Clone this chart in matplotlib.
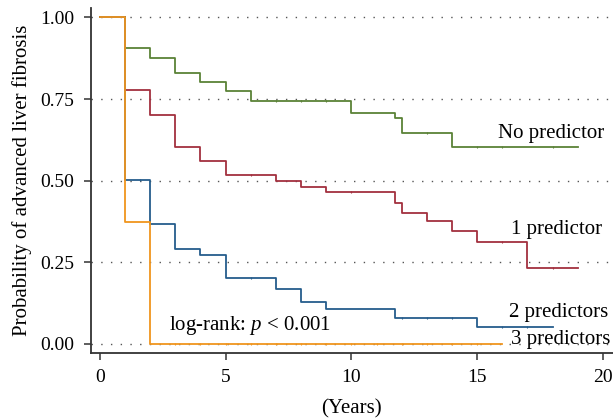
import matplotlib
matplotlib.use('Agg')
import matplotlib.pyplot as plt

plt.rcParams['font.family'] = ['Liberation Serif', 'DejaVu Serif']
plt.rcParams['mathtext.fontset'] = 'custom'
plt.rcParams['mathtext.it'] = 'Liberation Serif:italic'
plt.rcParams['mathtext.rm'] = 'Liberation Serif'

# Kaplan-Meier step data
t_none = [0, 1, 2, 3, 4, 5, 6, 10, 11.75, 12, 14, 19]
s_none = [1.0, 0.907, 0.877, 0.831, 0.801, 0.776, 0.745, 0.708, 0.691, 0.645, 0.604, 0.604]
c_none = [7, 8, 9, 13, 15, 16, 18]

t_one = [0, 1, 2, 3, 4, 5, 7, 8, 9, 11.75, 12, 13, 14, 15, 17, 19]
s_one = [1.0, 0.777, 0.700, 0.604, 0.560, 0.519, 0.499, 0.481, 0.464, 0.433, 0.402,
         0.378, 0.346, 0.311, 0.234, 0.234]
c_one = [6, 10, 16, 18]

t_two = [0, 1, 2, 3, 4, 5, 7, 8, 9, 11.75, 15, 18]
s_two = [1.0, 0.501, 0.366, 0.290, 0.272, 0.203, 0.167, 0.128, 0.108, 0.081, 0.053, 0.053]
c_two = [1.6, 6, 12, 13, 14, 16, 17]

t_three = [0, 1, 2, 16]
s_three = [1.0, 0.375, 0.0, 0.0]
c_three = [3, 4, 5, 6, 7, 8, 9, 10, 11, 12, 13, 14, 15]

groups = [
    ('No predictor', t_none, s_none, c_none, '#5b8237'),
    ('1 predictor', t_one, s_one, c_one, '#a3303f'),
    ('2 predictors', t_two, s_two, c_two, '#255d8c'),
    ('3 predictors', t_three, s_three, c_three, '#f0951e'),
]


def level_at(t, s, x):
    v = s[0]
    for ti, si in zip(t, s):
        if ti <= x:
            v = si
    return v


fig = plt.figure(figsize=(6.13, 4.19), dpi=100)
ax = fig.add_axes([0.148, 0.158, 0.852, 0.823])

for name, t, s, c, col in groups:
    ax.step(t, s, where='post', color=col, lw=1.3)
    cy = [level_at(t, s, x) for x in c]
    ax.plot(c, cy, ls='none', marker='|', ms=2, mew=0.8, color=col)

ax.set_xlim(-0.36, 20.4)
ax.set_ylim(-0.027, 1.029)
ax.set_xticks([0, 5, 10, 15, 20])
ax.set_yticks([0, 0.25, 0.5, 0.75, 1.0])
ax.set_yticklabels(['0.00', '0.25', '0.50', '0.75', '1.00'])
ax.tick_params(labelsize=14, length=5, width=1.1, color='#333333', pad=7)
ax.grid(axis='y', ls=(0, (1, 6)), color='#555555', lw=1)
ax.set_axisbelow(True)
for sp in ['top', 'right']:
    ax.spines[sp].set_visible(False)
for sp in ['left', 'bottom']:
    ax.spines[sp].set_linewidth(1.3)
    ax.spines[sp].set_color('#333333')

ax.set_xlabel('(Years)', fontsize=15, labelpad=9)
ax.set_ylabel('Probability of advanced liver fibrosis', fontsize=15, labelpad=6)

ax.text(20.05, 0.645, 'No predictor', fontsize=15, ha='right', va='center')
ax.text(19.95, 0.35, '1 predictor', fontsize=15, ha='right', va='center')
ax.text(20.2, 0.095, '2 predictors', fontsize=15, ha='right', va='center')
ax.text(20.3, 0.013, '3 predictors', fontsize=15, ha='right', va='center')
ax.text(2.75, 0.056, 'log-rank: $p$ < 0.001', fontsize=15, ha='left', va='center')

fig.savefig('out.png', dpi=100)
